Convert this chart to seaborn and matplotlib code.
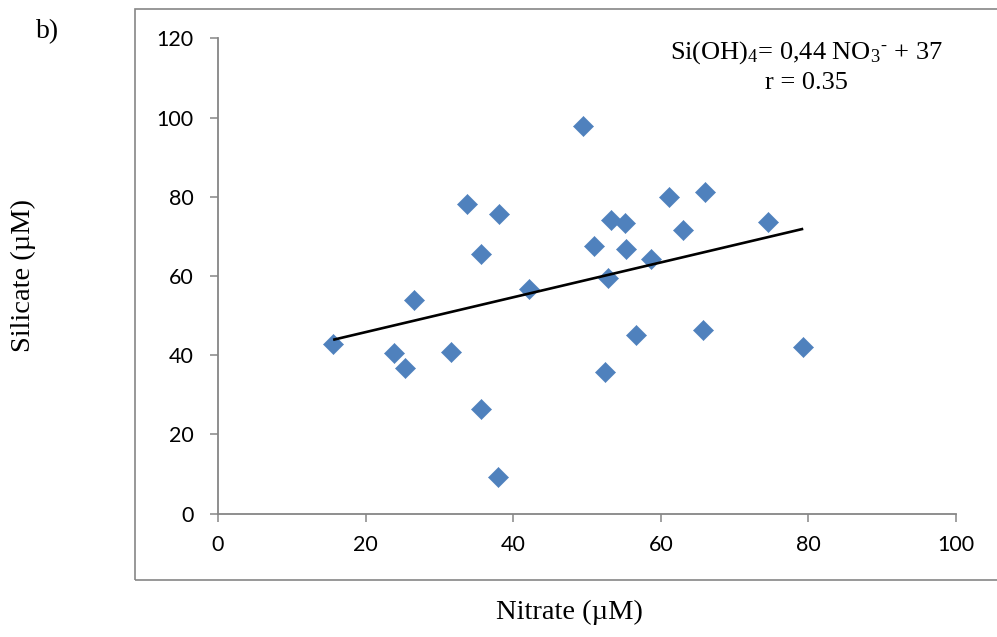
import matplotlib
matplotlib.use("Agg")
import matplotlib.pyplot as plt
from matplotlib.patches import Rectangle
import numpy as np
import pandas as pd
import seaborn as sns

# Nitrate vs silicate concentrations (µM)
nitrate = [15.6, 23.9, 25.4, 26.6, 31.6, 33.7, 35.6, 35.6, 38.1, 37.9, 42.1, 49.5, 50.9,
           52.4, 52.9, 53.3, 55.2, 55.3, 56.6, 58.7, 61.1, 63.0, 65.7, 66.0, 74.5, 79.3]
silicate = [42.8, 40.6, 36.7, 53.9, 40.8, 78.1, 65.5, 26.4, 75.6, 9.2, 56.7, 97.8, 67.5,
            35.8, 59.5, 74.1, 73.3, 66.8, 45.0, 64.3, 79.9, 71.6, 46.3, 81.2, 73.6, 42.0]

# Linear fit reported on the chart
slope = 0.44
intercept = 37
r_value = 0.35

x_ticks = [0, 20, 40, 60, 80, 100]
y_ticks = [0, 20, 40, 60, 80, 100, 120]

sns.set_theme(style="white")
plt.rcParams["font.family"] = ["Liberation Serif", "DejaVu Serif"]
plt.rcParams["mathtext.fontset"] = "custom"
plt.rcParams["mathtext.rm"] = "Liberation Serif"
plt.rcParams["mathtext.it"] = "Liberation Serif:italic"
plt.rcParams["mathtext.bf"] = "Liberation Serif:bold"

df = pd.DataFrame({"Nitrate": nitrate, "Silicate": silicate})

fig = plt.figure(figsize=(9.97, 6.37), dpi=100)
ax = fig.add_axes([218 / 997, 1 - 513.5 / 637, (956 - 218) / 997, (513.5 - 38.3) / 637])

blue = "#4F81BD"
grey = "#868686"

# fitted line across the data range
x_fit = np.array([min(nitrate), max(nitrate)])
ax.plot(x_fit, slope * x_fit + intercept, color="black", lw=1.9, zorder=3,
        solid_capstyle="butt")

sns.scatterplot(data=df, x="Nitrate", y="Silicate", marker="D", s=105,
                color=blue, edgecolor=blue, linewidth=0.4, ax=ax, zorder=2)

ax.set_xlim(0, 100)
ax.set_ylim(0, 120)
ax.set_xticks(x_ticks)
ax.set_yticks(y_ticks)
ax.set_xticklabels([str(t) for t in x_ticks], family="Lato", fontsize=15.5)
ax.set_yticklabels([str(t) for t in y_ticks], family="Lato", fontsize=15.5)
ax.tick_params(axis="both", which="major", direction="out", length=5.5, width=1.1,
               color=grey, labelcolor="black", bottom=True, left=True)
ax.tick_params(axis="y", pad=12)
ax.tick_params(axis="x", pad=10)

for side in ["top", "right"]:
    ax.spines[side].set_visible(False)
for side in ["left", "bottom"]:
    ax.spines[side].set_color(grey)
    ax.spines[side].set_linewidth(1.3)

ax.set_xlabel("")
ax.set_ylabel("")

# axis titles
fig.text(569 / 997, 1 - 612 / 637, "Nitrate (µM)", ha="center", va="center",
         fontsize=20.5, color="black")
fig.text(23 / 997, 1 - 275 / 637, "Silicate (µM)", ha="center", va="center",
         rotation=90, fontsize=20.5, color="black")

# panel letter
fig.text(48 / 997, 1 - 32 / 637, "b)", ha="center", va="center", fontsize=20,
         color="black")

# regression annotation
fig.text(806 / 997, 1 - 53 / 637,
         "Si(OH)$_{4}$= 0,44 NO$_{3}$$^{\u2010}$ + 37",
         ha="center", va="center", fontsize=19, color="black")
fig.text(806 / 997, 1 - 83 / 637, f"r = {r_value:.2f}", ha="center", va="center",
         fontsize=19, color="black")

# chart-area frame
frame = Rectangle((135 / 997, 1 - 580 / 637), (1000 - 135) / 997, (580 - 9) / 637,
                  transform=fig.transFigure, fill=False, edgecolor=grey, lw=1.2)
fig.add_artist(frame)

fig.savefig("out.png", dpi=100)
